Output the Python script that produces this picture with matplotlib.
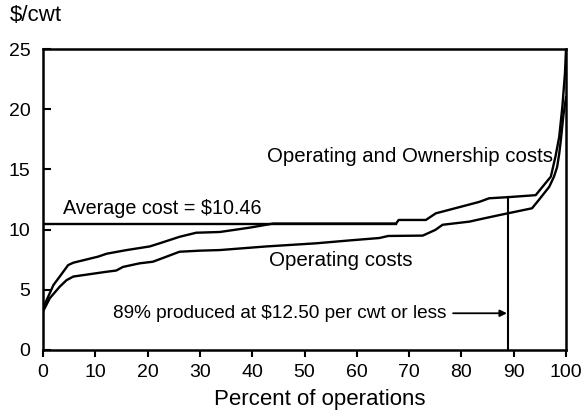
import matplotlib
matplotlib.use("Agg")
import matplotlib.pyplot as plt

plt.rcParams['font.family'] = ['Liberation Sans', 'DejaVu Sans']

# Operating and Ownership costs curve (percent of operations, $/cwt)
own_pct = [0, 0.7, 2, 3.2, 4.8, 5.8, 10.5, 12.2, 16, 20.4, 22.3, 26.1, 29.3, 33.8,
           39.5, 44, 67.5, 68, 73.2, 75.1, 80.8, 83.4, 85.3, 89.1, 94.2, 95.5,
           97.1, 98, 98.7, 99.3, 99.8, 100]
own_cost = [3.5, 4.15, 5.4, 6.1, 7.05, 7.25, 7.75, 8.0, 8.3, 8.6, 8.86, 9.4, 9.74, 9.8,
            10.16, 10.5, 10.5, 10.8, 10.8, 11.35, 12.0, 12.3, 12.6, 12.7, 12.86, 13.55,
            14.4, 16.1, 17.7, 20.2, 23, 25]

# Operating costs curve
op_pct = [0, 1.3, 3.2, 4.5, 5.8, 9, 12.2, 14, 15.3, 18.5, 21, 23.6, 26.1, 30, 33.8,
          42.7, 52.2, 58.6, 64.3, 66, 72.6, 75, 76.4, 81.5, 84, 87.2, 93.5, 94.8,
          96.8, 97.7, 98.3, 98.7, 99, 99.5, 100]
op_cost = [3.2, 4.3, 5.26, 5.8, 6.1, 6.3, 6.5, 6.6, 6.9, 7.2, 7.33, 7.75, 8.16, 8.25, 8.3,
           8.6, 8.86, 9.1, 9.3, 9.47, 9.5, 9.97, 10.4, 10.66, 10.9, 11.2, 11.77, 12.46,
           13.56, 14.4, 15.2, 16.3, 17.4, 19.5, 21]

avg_cost = 10.46
avg_end_pct = 67.5
cutoff_pct = 89
cutoff_cost = 12.7

x_ticks = [0, 10, 20, 30, 40, 50, 60, 70, 80, 90, 100]
y_ticks = [0, 5, 10, 15, 20, 25]

fig = plt.figure(figsize=(5.86, 4.16), dpi=100)
ax = fig.add_axes([0.0734, 0.1587, 0.8925, 0.7235])

lw = 1.7
ax.plot(own_pct, own_cost, color='black', lw=lw, solid_joinstyle='round')
ax.plot(op_pct, op_cost, color='black', lw=lw, solid_joinstyle='round')
ax.plot([0, avg_end_pct], [avg_cost, avg_cost], color='black', lw=lw)
ax.plot([cutoff_pct, cutoff_pct], [0, cutoff_cost], color='black', lw=1.5)

ax.set_xlim(0, 100)
ax.set_ylim(0, 25)
ax.set_xticks(x_ticks)
ax.set_yticks(y_ticks)
ax.tick_params(axis='y', direction='in', length=6, width=1.5, labelsize=14, pad=9)
ax.tick_params(axis='x', direction='out', length=5, width=1.5, labelsize=14, pad=5)
for s in ax.spines.values():
    s.set_linewidth(1.8)

ax.text(3.8, 11.0, r"Average cost = \$10.46", fontsize=14.2, ha='left', va='bottom')
ax.text(97.5, 16.1, "Operating and Ownership costs", fontsize=14.7, ha='right', va='center')
ax.text(43.2, 7.4, "Operating costs", fontsize=14.8, ha='left', va='center')
ax.text(13.3, 3.05, r"89% produced at \$12.50 per cwt or less", fontsize=13.7,
        ha='left', va='center')
ax.annotate("", xy=(cutoff_pct - 0.3, 3.05), xytext=(78.4, 3.05),
            arrowprops=dict(arrowstyle='-|>', color='black', lw=1.3,
                            mutation_scale=10, shrinkA=0, shrinkB=0))

fig.text(320 / 586, 1 - 400 / 416, "Percent of operations", fontsize=16,
         ha='center', va='center')
fig.text(0.017, 0.963, r"\$/cwt", fontsize=16, ha='left', va='center')

fig.savefig("out.png", dpi=100)
